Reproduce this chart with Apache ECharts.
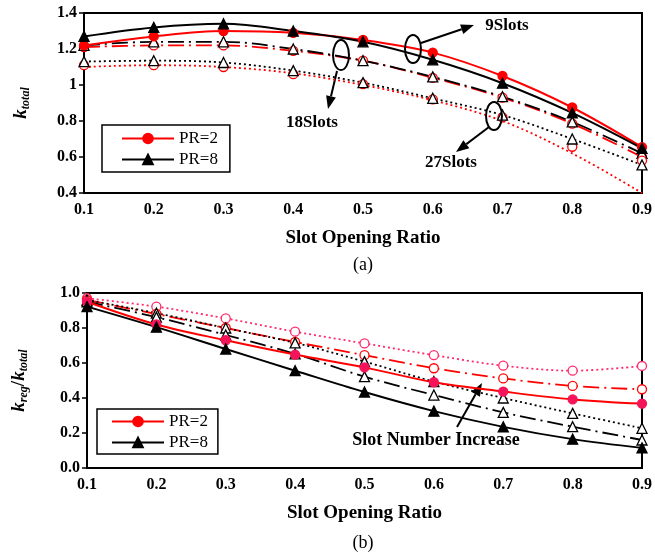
<!DOCTYPE html>
<html>
<head>
<meta charset="utf-8">
<script src="https://cdn.jsdelivr.net/npm/echarts@6/dist/echarts.min.js"></script>
<style>
  html, body { margin: 0; padding: 0; background: #fff; }
  #chart { width: 655px; height: 556px; }
</style>
</head>
<body>
<div id="chart"></div>
<script>
// slot opening ratio categories
const ratios = ['0.1', '0.2', '0.3', '0.4', '0.5', '0.6', '0.7', '0.8', '0.9'];

// (a) k_total, markers
const aPr2Slot9  = [1.22, 1.27, 1.30, 1.29, 1.25, 1.18, 1.05, 0.875, 0.655];
const aPr8Slot9  = [1.27, 1.32, 1.34, 1.30, 1.24, 1.14, 1.01, 0.845, 0.648];
const aPr2Slot18 = [1.21, 1.22, 1.22, 1.19, 1.135, 1.04, 0.93, 0.785, 0.60];
const aPr8Slot18 = [1.22, 1.24, 1.24, 1.20, 1.135, 1.045, 0.935, 0.795, 0.62];
const aPr2Slot27 = [1.11, 1.11, 1.10, 1.06, 1.005, 0.92, 0.82, 0.657, 0.58];
const aPr8Slot27 = [1.13, 1.135, 1.125, 1.08, 1.013, 0.926, 0.833, 0.70, 0.556];
// (a) trend line of PR=2 27 slots (does not follow the markers)
const aPr2Slot27Trend = [1.10, 1.11, 1.10, 1.065, 1.0, 0.915, 0.80, 0.62, 0.40];

// (b) k_reg / k_total
const bPr2Slot9  = [0.95, 0.82, 0.73, 0.648, 0.575, 0.49, 0.437, 0.392, 0.368];
const bPr8Slot9  = [0.922, 0.805, 0.68, 0.556, 0.434, 0.325, 0.235, 0.165, 0.115];
const bPr2Slot18 = [0.96, 0.88, 0.80, 0.72, 0.645, 0.57, 0.512, 0.469, 0.45];
const bPr8Slot18 = [0.95, 0.862, 0.76, 0.652, 0.522, 0.417, 0.318, 0.236, 0.16];
const bPr2Slot27 = [0.97, 0.922, 0.855, 0.779, 0.712, 0.645, 0.585, 0.556, 0.583];
const bPr8Slot27 = [0.96, 0.885, 0.80, 0.715, 0.608, 0.494, 0.40, 0.312, 0.227];

const RED = '#ff0000';
const PINK = '#ff2a6a';
const BLACK = '#000000';
const DASHDOT = [16, 5, 2, 5];
const DOT = [2, 3];
const FONT = 'Liberation Serif';

function curve(idx, name, data, color, dash, symbol, filled, fill) {
  return {
    name: name,
    type: 'line',
    xAxisIndex: idx,
    yAxisIndex: idx,
    data: data,
    smooth: 0.35,
    symbol: symbol,
    symbolSize: symbol === 'triangle' ? 10 : 9,
    showAllSymbol: true,
    lineStyle: { color: color, width: dash === 'solid' ? 2 : 1.8, type: dash },
    itemStyle: {
      color: filled ? (fill || color) : '#fff',
      borderColor: filled ? (fill || color) : color,
      borderWidth: 1.3
    },
    z: filled ? 4 : 3
  };
}

function trend(idx, data, color, dash) {
  return {
    type: 'line', xAxisIndex: idx, yAxisIndex: idx, data: data,
    smooth: 0.35, symbol: 'none',
    lineStyle: { color: color, width: 1.8, type: dash }, z: 2
  };
}

function markersOnly(idx, data, color, symbol) {
  return {
    type: 'line', xAxisIndex: idx, yAxisIndex: idx, data: data,
    symbol: symbol, symbolSize: 9, showAllSymbol: true,
    lineStyle: { opacity: 0 },
    itemStyle: { color: '#fff', borderColor: color, borderWidth: 1.3 }, z: 3
  };
}

function arrow(x1, y1, x2, y2) {
  const a = Math.atan2(y2 - y1, x2 - x1);
  const L = 13, W = 5;
  const bx = x2 - L * Math.cos(a), by = y2 - L * Math.sin(a);
  return [
    { type: 'line', shape: { x1: x1, y1: y1, x2: bx, y2: by }, style: { stroke: '#000', lineWidth: 2 } },
    { type: 'polygon', shape: { points: [[x2, y2],
        [bx + W * Math.sin(a), by - W * Math.cos(a)],
        [bx - W * Math.sin(a), by + W * Math.cos(a)]] }, style: { fill: '#000' } }
  ];
}

function ellipse(cx, cy, rx, ry) {
  return { type: 'ellipse', shape: { cx: cx, cy: cy, rx: rx, ry: ry },
    style: { fill: 'none', stroke: '#000', lineWidth: 2 }, z: 10 };
}

function label(x, y, text, bold, size) {
  return { type: 'text', x: x, y: y, z: 10,
    style: { text: text, fontFamily: FONT, fontWeight: bold ? 'bold' : 'normal',
      fontSize: size, fill: '#000', align: 'center', verticalAlign: 'middle' } };
}

const xAxisBase = {
  type: 'category', data: ratios, boundaryGap: false,
  axisLine: { lineStyle: { color: '#000', width: 2 } },
  axisTick: { show: false },
  axisLabel: { color: '#000', fontFamily: FONT, fontWeight: 'bold', fontSize: 16, margin: 9 },
  name: 'Slot Opening Ratio', nameLocation: 'middle', nameGap: 36,
  nameTextStyle: { color: '#000', fontFamily: FONT, fontWeight: 'bold', fontSize: 19 },
  splitLine: { show: false }
};

const yAxisBase = {
  type: 'value',
  axisLine: { show: true, lineStyle: { color: '#000', width: 2 } },
  axisTick: { show: true, inside: false, length: 5, lineStyle: { color: '#000', width: 1.5 } },
  axisLabel: { color: '#000', fontFamily: FONT, fontWeight: 'bold', fontSize: 16, margin: 7 },
  splitLine: { show: false },
  nameLocation: 'middle', nameRotate: 90,
  nameTextStyle: {
    color: '#000', fontFamily: FONT,
    rich: {
      k: { fontFamily: FONT, fontStyle: 'italic', fontWeight: 'bold', fontSize: 19 },
      s: { fontFamily: FONT, fontStyle: 'italic', fontWeight: 'bold', fontSize: 12, padding: [9, 0, 0, 0] },
      d: { fontFamily: FONT, fontWeight: 'bold', fontSize: 19 }
    }
  }
};

const legendBase = {
  orient: 'vertical', data: ['PR=2', 'PR=8'],
  backgroundColor: '#fff', borderColor: '#000', borderWidth: 1.5,
  itemGap: 4, itemWidth: 52, itemHeight: 12,
  textStyle: { fontFamily: FONT, fontSize: 17, color: '#000' }
};

const option = {
  backgroundColor: '#fff',
  animation: false,
  grid: [
    { left: 84, top: 13, width: 558, height: 180, show: true, borderColor: '#000', borderWidth: 2 },
    { left: 87, top: 293, width: 556, height: 175, show: true, borderColor: '#000', borderWidth: 2 }
  ],
  xAxis: [
    Object.assign({}, xAxisBase, { gridIndex: 0 }),
    Object.assign({}, xAxisBase, { gridIndex: 1 })
  ],
  yAxis: [
    Object.assign({}, yAxisBase, { gridIndex: 0, min: 0.4, max: 1.4, interval: 0.2,
      name: '{k|k}{s|total}', nameGap: 52 }),
    Object.assign({}, yAxisBase, { gridIndex: 1, min: 0, max: 1, interval: 0.2,
      name: '{k|k}{s|reg}{d|/}{k|k}{s|total}', nameGap: 57,
      axisLabel: Object.assign({}, yAxisBase.axisLabel, { formatter: v => v.toFixed(1) }) })
  ],
  legend: [
    Object.assign({}, legendBase, { left: 102, top: 125, padding: [5, 12, 4, 19] }),
    Object.assign({}, legendBase, { left: 97, top: 409, padding: [4, 10, 3, 14] })
  ],
  series: [
    // (a)
    curve(0, 'a18r', aPr2Slot18, RED, DASHDOT, 'circle', false),
    curve(0, 'a18b', aPr8Slot18, BLACK, DASHDOT, 'triangle', false),
    trend(0, aPr2Slot27Trend, RED, DOT),
    markersOnly(0, aPr2Slot27, RED, 'circle'),
    curve(0, 'a27b', aPr8Slot27, BLACK, DOT, 'triangle', false),
    curve(0, 'PR=2', aPr2Slot9, RED, 'solid', 'circle', true),
    curve(0, 'PR=8', aPr8Slot9, BLACK, 'solid', 'triangle', true),
    // (b)
    curve(1, 'b27r', bPr2Slot27, PINK, DOT, 'circle', false),
    curve(1, 'b18r', bPr2Slot18, RED, DASHDOT, 'circle', false),
    curve(1, 'b27b', bPr8Slot27, BLACK, DOT, 'triangle', false),
    curve(1, 'b18b', bPr8Slot18, BLACK, DASHDOT, 'triangle', false),
    curve(1, 'PR=2', bPr2Slot9, RED, 'solid', 'circle', true, '#f5145a'),
    curve(1, 'PR=8', bPr8Slot9, BLACK, 'solid', 'triangle', true)
  ],
  graphic: [
    ellipse(413, 49, 8, 14),
    ...arrow(421, 43, 474, 25),
    label(507, 26, '9Slots', true, 17),
    ellipse(341, 55, 8, 15),
    ...arrow(337, 71, 328, 109),
    label(312, 123, '18Slots', true, 17),
    ellipse(494, 116, 8, 14),
    ...arrow(489, 127, 456, 152),
    label(451, 163, '27Slots', true, 17),
    label(363, 265, '(a)', false, 18),
    ...arrow(457, 427, 482, 383),
    label(436, 440, 'Slot Number Increase', true, 18),
    label(363, 543, '(b)', false, 18)
  ]
};

const chart = echarts.init(document.getElementById('chart'));
chart.setOption(option);
</script>
</body>
</html>
